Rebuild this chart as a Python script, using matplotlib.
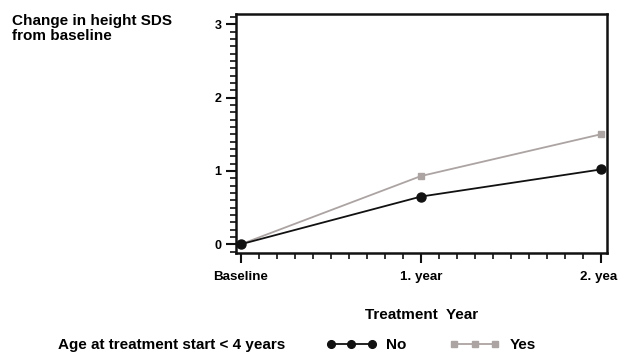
import numpy as np
import matplotlib.pyplot as plt
from matplotlib.ticker import MultipleLocator, FixedLocator

plt.rcParams['font.family'] = ['Liberation Sans', 'DejaVu Sans']
plt.rcParams['font.weight'] = 'bold'

# change in height SDS at each visit
visits = ['Baseline', '1. year', '2. year']
x = [0, 1, 2]
sds_no = [0.0, 0.65, 1.02]
sds_yes = [0.0, 0.93, 1.50]

black = '#111111'
grey = '#aca4a3'

fig = plt.figure(figsize=(6.18, 3.54), dpi=100)
ax = fig.add_axes([236 / 618, 1 - 253 / 354, 371 / 618, 239 / 354])

ax.plot(x, sds_no, '-o', color=black, lw=1.3, ms=6.5, label='No', zorder=3)
ax.plot(x, sds_yes, '-s', color=grey, lw=1.3, ms=5, label='Yes', zorder=2)

ax.set_xlim(-0.028, 2.033)
ax.set_ylim(-0.12, 3.14)

ax.xaxis.set_major_locator(FixedLocator(x))
ax.set_xticklabels(visits, fontsize=9.6, fontweight='bold')
ax.xaxis.set_minor_locator(MultipleLocator(0.1))
ax.yaxis.set_major_locator(MultipleLocator(1))
ax.yaxis.set_minor_locator(MultipleLocator(0.1))
ax.tick_params(axis='y', labelsize=9)
ax.tick_params(which='major', length=7, width=1.5, color=black)
ax.tick_params(which='minor', length=4.5, width=1.2, color=black)
ax.tick_params(axis='x', which='major', pad=6)
for lbl in ax.get_yticklabels():
    lbl.set_fontweight('bold')
for s in ax.spines.values():
    s.set_linewidth(1.8)
    s.set_color(black)

ax.set_xlabel('Treatment  Year', fontsize=11, fontweight='bold', labelpad=18)

fig.text(12 / 618, 1 - 14 / 354, 'Change in height SDS\nfrom baseline',
         fontsize=11, fontweight='bold', va='top', ha='left', linespacing=1.1)

fig.text(58 / 618, 1 - 345 / 354, 'Age at treatment start < 4 years',
         fontsize=11, fontweight='bold', va='center', ha='left')
leg = fig.legend(loc='center left', bbox_to_anchor=(320 / 618, 1 - 345 / 354),
                 ncol=2, frameon=False, numpoints=3, handlelength=3.3,
                 columnspacing=2.8, handletextpad=0.65, borderaxespad=0,
                 markerscale=0.85, prop={'size': 11, 'weight': 'bold'})

fig.savefig('out.png', dpi=100)
